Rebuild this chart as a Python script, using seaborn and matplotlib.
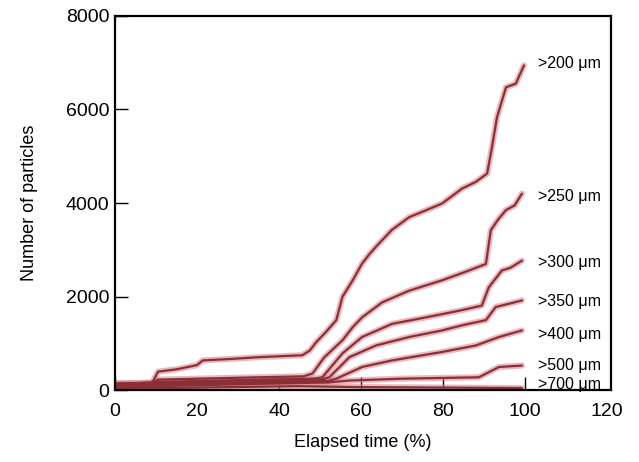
import numpy as np
import pandas as pd
import matplotlib
matplotlib.use("Agg")
import matplotlib.pyplot as plt
import seaborn as sns

# ---- data ----
labels = [">200 μm", ">250 μm", ">300 μm", ">350 μm", ">400 μm", ">500 μm", ">700 μm"]

x200 = [0, 9.0, 10.5, 15, 20.0, 21.4, 28, 35.3, 45.7, 47.5, 49.1, 51.5, 54.0, 55.5, 58, 60.3, 62, 63.7,
        67.6, 71.8, 76, 79.8, 84.7, 88, 90.8, 92, 93.2, 95.4, 97.8, 99.8]
y200 = [150, 150, 400, 450, 540, 640, 670, 710, 750, 850, 1030, 1250, 1500, 2000, 2350, 2710, 2900, 3070,
        3430, 3700, 3850, 3990, 4310, 4450, 4630, 5200, 5830, 6470, 6550, 6940]

x250 = [0, 9.0, 10.5, 30, 46, 48.2, 51, 55.5, 58, 60.3, 65.2, 71.8, 79.8, 86.4, 90.5, 91.7, 93.5, 95.4, 97.5, 99.3]
y250 = [150, 150, 230, 270, 300, 360, 700, 1070, 1350, 1560, 1880, 2130, 2350, 2560, 2700, 3420, 3650, 3850, 3950, 4200]

x300 = [0, 10, 30, 48.5, 50.6, 55.5, 60.3, 67.6, 75.9, 83.9, 89.5, 91.2, 94.4, 96.5, 99.3]
y300 = [120, 180, 220, 250, 280, 790, 1140, 1420, 1560, 1700, 1810, 2200, 2560, 2620, 2770]

x350 = [0, 10, 30, 50, 52.3, 57.2, 63.7, 71.8, 79.8, 84.7, 90.5, 92.9, 99.3]
y350 = [100, 150, 190, 220, 280, 710, 960, 1140, 1280, 1390, 1500, 1780, 1920]

x400 = [0, 10, 30, 52, 54.0, 60.3, 67.6, 79.8, 88.1, 93.7, 99.3]
y400 = [80, 120, 160, 200, 250, 500, 640, 820, 960, 1140, 1280]

x500 = [0, 10, 30, 52, 57.2, 70, 88.8, 93.7, 99.3]
y500 = [60, 90, 130, 170, 210, 250, 280, 500, 530]

x700 = [0, 20, 45, 60, 80, 99.3]
y700 = [40, 60, 90, 70, 60, 50]

xs = [x200, x250, x300, x350, x400, x500, x700]
ys = [y200, y250, y300, y350, y400, y500, y700]

x_ticks = [0, 20, 40, 60, 80, 100, 120]
y_ticks = [0, 2000, 4000, 6000, 8000]

# ---- style ----
sns.set_theme(style="white")
plt.rcParams["font.family"] = ["Liberation Sans", "DejaVu Sans"]

fig = plt.figure(figsize=(6.39, 4.62), dpi=100)
ax = fig.add_axes([0.18, 0.155, 0.776, 0.811])

frames = []
for lab, xv, yv in zip(labels, xs, ys):
    frames.append(pd.DataFrame({"time": xv, "count": yv, "size": lab}))
df = pd.concat(frames, ignore_index=True)

halo = "#d9808a"
core = "#8a2f37"
for lab in labels[::-1]:
    sub = df[df["size"] == lab]
    sns.lineplot(data=sub, x="time", y="count", ax=ax, color=halo, lw=4.4, alpha=0.55,
                 sort=False, estimator=None, legend=False)
for lab in labels[::-1]:
    sub = df[df["size"] == lab]
    sns.lineplot(data=sub, x="time", y="count", ax=ax, color=core, lw=1.6,
                 sort=False, estimator=None, legend=False)

# series labels at right end
label_y = [6990, 4150, 2730, 1900, 1190, 530, 130]
for lab, ly in zip(labels, label_y):
    ax.text(103.2, ly, lab, fontsize=11.5, va="center", ha="left", color="black")

ax.set_xlim(0, 121)
ax.set_ylim(0, 8000)
ax.set_xticks(x_ticks)
ax.set_yticks(y_ticks)
ax.tick_params(direction="in", length=9.5, width=1.0, color="black", labelsize=14,
               labelcolor="black", bottom=True, left=True)
ax.tick_params(axis="x", pad=9)
ax.tick_params(axis="y", pad=4)
ax.xaxis.get_major_ticks()[-1].tick1line.set_visible(False)
for s in ax.spines.values():
    s.set_color("black")
    s.set_linewidth(1.6)

ax.set_xlabel("Elapsed time (%)", fontsize=13, labelpad=10, color="black")
ax.set_ylabel("Number of particles", fontsize=13, labelpad=20, color="black")

fig.savefig("out.png", dpi=100)
